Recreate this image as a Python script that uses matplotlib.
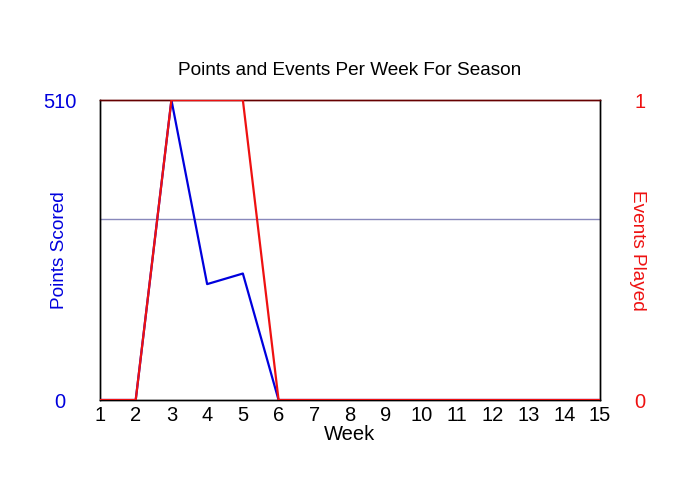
import matplotlib
matplotlib.use("Agg")
import matplotlib.pyplot as plt

weeks = list(range(1, 16))
points = [0, 0, 510, 197, 215, 0, 0, 0, 0, 0, 0, 0, 0, 0, 0]
events = [0, 0, 1, 1, 1, 0, 0, 0, 0, 0, 0, 0, 0, 0, 0]
avg_points = 307.3

plt.rcParams['font.family'] = ['Liberation Sans', 'DejaVu Sans']

fig = plt.figure(figsize=(7, 5), dpi=100)
ax = fig.add_axes([100/700, 0.2, 500/700, 0.6])
ax2 = ax.twinx()

ax.plot(weeks, points, color='#0000dd', lw=1.6, zorder=3)
ax.axhline(avg_points, color='#8888bb', lw=1)
ax2.plot(weeks, events, color='#ee1111', lw=1.6, zorder=4)

ax.set_xlim(1, 15)
ax.set_ylim(0, 510)
ax2.set_ylim(0, 1)
ax.set_xticks(weeks)
ax.set_yticks([0, 510])
ax2.set_yticks([0, 1])

ax.tick_params(axis='x', length=0, labelsize=14.5, pad=4)
ax.tick_params(axis='y', length=0, labelsize=14.5, labelcolor='#0000dd', pad=28.8)
ax2.tick_params(axis='y', length=0, labelsize=14.5, labelcolor='#ee1111', pad=28.8)
for lab in ax.get_yticklabels() + ax2.get_yticklabels():
    lab.set_ha('center')

ax.set_xlabel('Week', fontsize=14.5, labelpad=0)
ax.set_ylabel('Points Scored', fontsize=13.7, color='#0000dd')
ax2.set_ylabel('Events Played', fontsize=13.7, color='#ee1111', rotation=270)
ax.yaxis.set_label_coords(-0.082, 0.5)
ax2.yaxis.set_label_coords(1.075, 0.5)
for lab in (ax.yaxis.label, ax2.yaxis.label):
    lab.set_va('center')
    lab.set_ha('center')
ax.set_title('Points and Events Per Week For Season', fontsize=13.7, pad=18)

for a in (ax, ax2):
    for s in a.spines.values():
        s.set_color('black')
        s.set_linewidth(1)
    a.spines['top'].set_color('#660000')

fig.savefig('out.png', dpi=100)
